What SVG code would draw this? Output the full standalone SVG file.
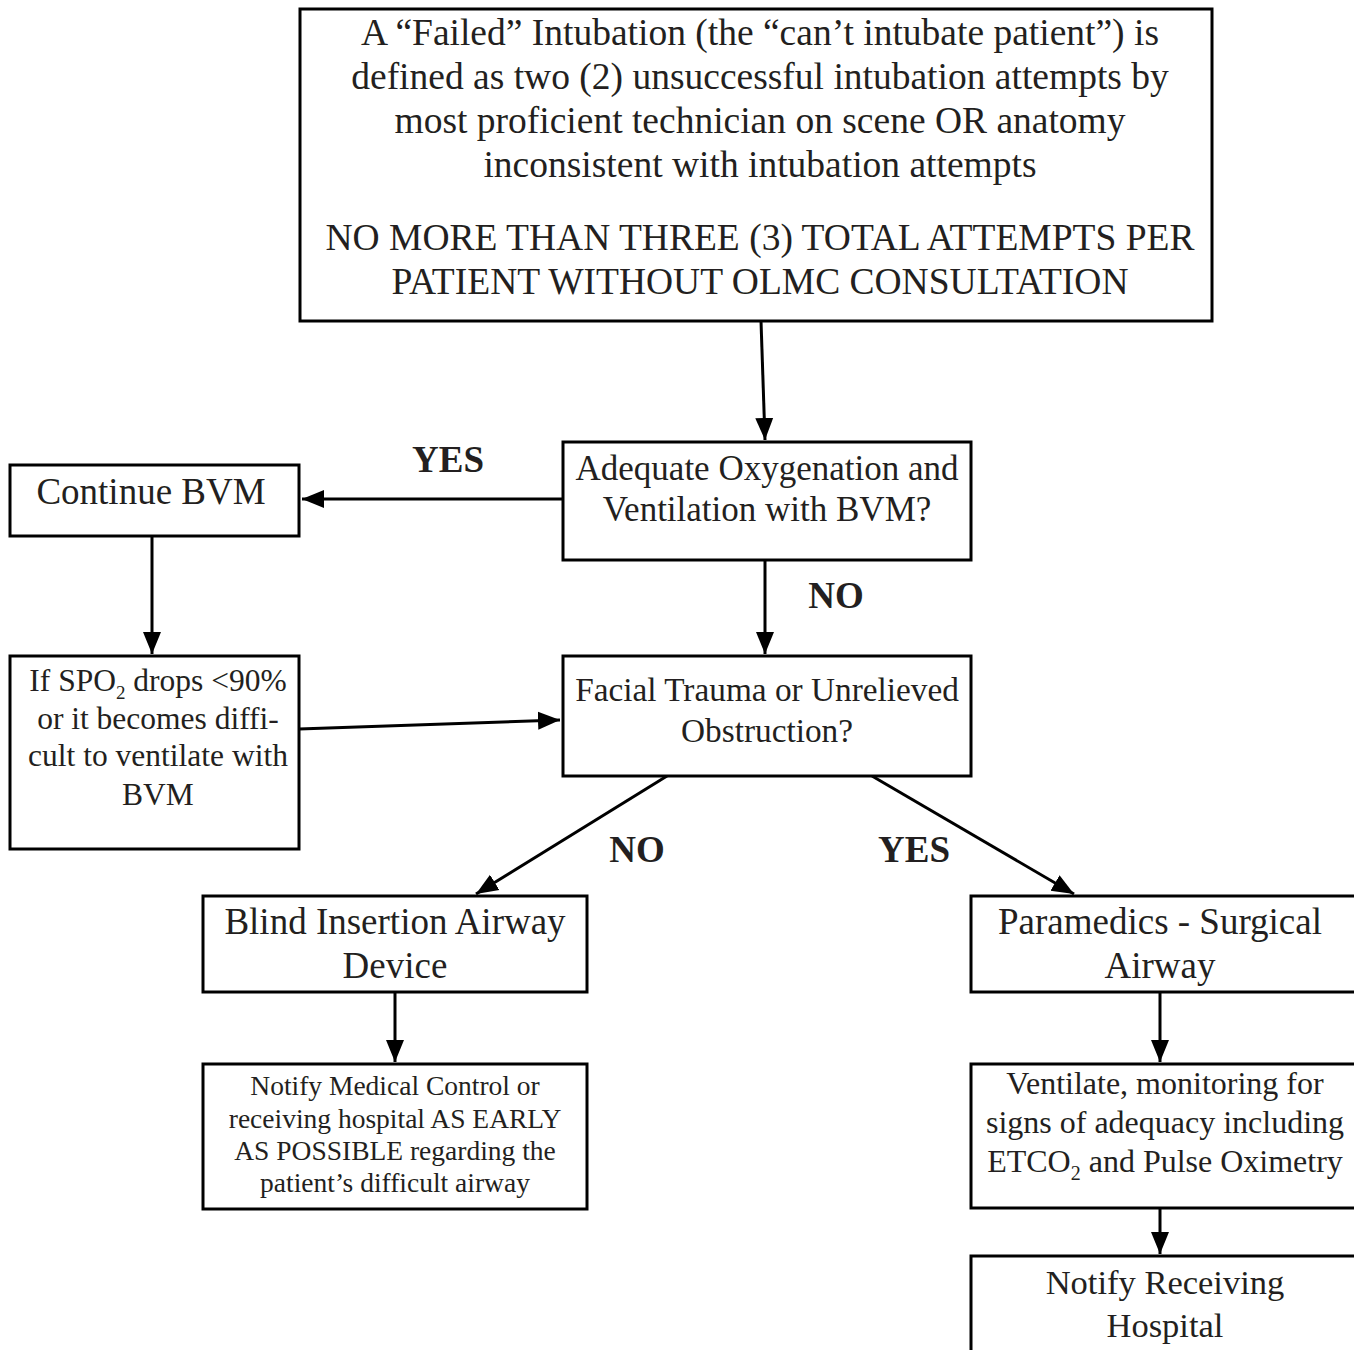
<svg xmlns="http://www.w3.org/2000/svg" width="1354" height="1350" viewBox="0 0 1354 1350">
<style>
.box{fill:#fff;stroke:#000;stroke-width:3}
.t{font-family:"Liberation Serif","Times New Roman",serif;fill:#231f20;text-anchor:middle}
.lbl{font-family:"Liberation Serif","Times New Roman",serif;fill:#231f20;text-anchor:middle;font-weight:bold;font-size:37px}
.c{stroke:#000;stroke-width:3;fill:none;marker-end:url(#ah)}
</style>
<defs>
<marker id="ah" markerUnits="userSpaceOnUse" markerWidth="24" markerHeight="20" refX="22" refY="9" orient="auto" viewBox="0 0 24 18">
<path d="M0,0 L22,9 L0,18 Z" fill="#000"/>
</marker>
</defs>
<rect width="1354" height="1350" fill="#fff"/>
<g id="connectors">
<line class="c" x1="761" y1="321" x2="765" y2="440"/>
<line class="c" x1="563" y1="499" x2="302" y2="499"/>
<line class="c" x1="152" y1="536" x2="152" y2="654"/>
<line class="c" x1="765" y1="560" x2="765" y2="654"/>
<line class="c" x1="299" y1="729" x2="560" y2="720"/>
<line class="c" x1="667" y1="776" x2="476" y2="894"/>
<line class="c" x1="872" y1="776" x2="1074" y2="894"/>
<line class="c" x1="395" y1="992" x2="395" y2="1062"/>
<line class="c" x1="1160" y1="992" x2="1160" y2="1062"/>
<line class="c" x1="1160" y1="1208" x2="1160" y2="1254"/>
<text class="lbl" x="448" y="472">YES</text>
<text class="lbl" x="836" y="608">NO</text>
<text class="lbl" x="637" y="862">NO</text>
<text class="lbl" x="914" y="862">YES</text>
</g>
<g id="n1">
<rect class="box" x="300" y="9" width="912" height="312"/>
<text class="t" font-size="37.5" x="760" y="45">A “Failed” Intubation (the “can’t intubate patient”) is</text>
<text class="t" font-size="37.5" x="760" y="89">defined as two (2) unsuccessful intubation attempts by</text>
<text class="t" font-size="37.5" x="760" y="133">most proficient technician on scene OR anatomy</text>
<text class="t" font-size="37.5" x="760" y="177">inconsistent with intubation attempts</text>
<text class="t" font-size="37.5" x="760" y="250">NO MORE THAN THREE (3) TOTAL ATTEMPTS PER</text>
<text class="t" font-size="37.5" x="760" y="294">PATIENT WITHOUT OLMC CONSULTATION</text>
</g>
<g id="n2">
<rect class="box" x="563" y="442" width="408" height="118"/>
<text class="t" font-size="35" x="767" y="480">Adequate Oxygenation and</text>
<text class="t" font-size="35" x="767" y="521">Ventilation with BVM?</text>
</g>
<g id="n3">
<rect class="box" x="10" y="465" width="289" height="71"/>
<text class="t" font-size="37" x="151" y="504">Continue BVM</text>
</g>
<g id="n4">
<rect class="box" x="10" y="656" width="289" height="193"/>
<text class="t" font-size="31.5" x="158" y="691">If SPO<tspan font-size="19" dy="8">2</tspan><tspan dy="-8"> drops &lt;90%</tspan></text>
<text class="t" font-size="31.5" x="158" y="729">or it becomes diffi-</text>
<text class="t" font-size="31.5" x="158" y="766">cult to ventilate with</text>
<text class="t" font-size="31.5" x="158" y="805">BVM</text>
</g>
<g id="n5">
<rect class="box" x="563" y="656" width="408" height="120"/>
<text class="t" font-size="33.3" x="767" y="701">Facial Trauma or Unrelieved</text>
<text class="t" font-size="33.3" x="767" y="742">Obstruction?</text>
</g>
<g id="n6">
<rect class="box" x="203" y="896" width="384" height="96"/>
<text class="t" font-size="37" x="395" y="934">Blind Insertion Airway</text>
<text class="t" font-size="37" x="395" y="978">Device</text>
</g>
<g id="n7">
<rect class="box" x="971" y="896" width="390" height="96"/>
<text class="t" font-size="37" x="1160" y="934">Paramedics - Surgical</text>
<text class="t" font-size="37" x="1160" y="978">Airway</text>
</g>
<g id="n8">
<rect class="box" x="203" y="1064" width="384" height="145"/>
<text class="t" font-size="27.5" x="395" y="1095">Notify Medical Control or</text>
<text class="t" font-size="27.5" x="395" y="1128">receiving hospital AS EARLY</text>
<text class="t" font-size="27.5" x="395" y="1160">AS POSSIBLE regarding the</text>
<text class="t" font-size="27.5" x="395" y="1192">patient’s difficult airway</text>
</g>
<g id="n9">
<rect class="box" x="971" y="1064" width="390" height="144"/>
<text class="t" font-size="32" x="1165" y="1094">Ventilate, monitoring for</text>
<text class="t" font-size="32" x="1165" y="1133">signs of adequacy including</text>
<text class="t" font-size="32" x="1165" y="1172">ETCO<tspan font-size="20" dy="8">2</tspan><tspan dy="-8"> and Pulse Oximetry</tspan></text>
</g>
<g id="n10">
<rect class="box" x="971" y="1256" width="390" height="110"/>
<text class="t" font-size="34.5" x="1165" y="1294">Notify Receiving</text>
<text class="t" font-size="34.5" x="1165" y="1337">Hospital</text>
</g>
</svg>
